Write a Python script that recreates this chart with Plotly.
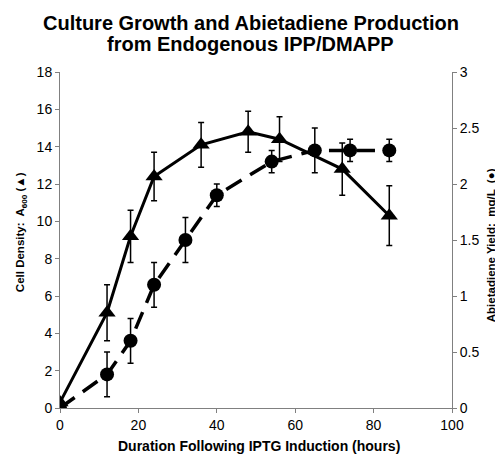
import plotly.graph_objects as go

# hours after induction
hours_density = [0, 12, 18, 24, 36, 48, 56, 72, 84]
density = [0.3, 5.1, 9.2, 12.4, 14.1, 14.8, 14.4, 12.8, 10.3]
density_err = [0.0, 1.5, 1.4, 1.3, 1.2, 1.1, 1.2, 1.4, 1.6]

hours_yield = [0, 12, 18, 24, 32, 40, 54, 65, 74, 84]
abietadiene = [0.0, 0.3, 0.6, 1.1, 1.5, 1.9, 2.2, 2.3, 2.3, 2.3]
abietadiene_err = [0.0, 0.2, 0.2, 0.2, 0.2, 0.1, 0.1, 0.2, 0.1, 0.1]

FONT = "Liberation Sans, Arial, sans-serif"

fig = go.Figure()

# cell density (left axis)
fig.add_trace(go.Scatter(
    x=hours_density, y=density,
    mode='lines+markers',
    line=dict(color='black', width=3),
    marker=dict(symbol='triangle-up', size=15, color='black'),
    error_y=dict(type='data', array=density_err, color='black', thickness=1.5, width=3),
    showlegend=False,
))

# abietadiene yield (right axis)
fig.add_trace(go.Scatter(
    x=hours_yield, y=abietadiene,
    mode='lines+markers',
    line=dict(color='black', width=3.5, dash='18px,10px'),
    marker=dict(symbol='circle', size=14, color='black'),
    error_y=dict(type='data', array=abietadiene_err, color='black', thickness=1.5, width=3),
    yaxis='y2',
    showlegend=False,
))

axis_style = dict(
    showgrid=False, zeroline=False, automargin=False,
    showline=True, linecolor='#808080', linewidth=1,
    ticks='outside', ticklen=4, tickcolor='#808080',
    tickfont=dict(size=14),
)

# page body adds an 8px margin, so the figure is 8px smaller than the window
fig.update_layout(
    width=495, height=447,
    paper_bgcolor='white', plot_bgcolor='white',
    font=dict(family=FONT, size=14, color='black'),
    margin=dict(l=52, r=51, t=64, b=47),
    xaxis=dict(range=[0, 100], dtick=20, **axis_style),
    yaxis=dict(range=[0, 18], dtick=2, **axis_style),
    yaxis2=dict(range=[0, 3], dtick=0.5, overlaying='y', side='right', **axis_style),
    annotations=[
        dict(text='<b>Culture Growth and Abietadiene Production</b>',
             xref='paper', yref='paper', x=0.487, y=1.146, showarrow=False,
             xanchor='center', yanchor='middle', font=dict(size=20)),
        dict(text='<b>from Endogenous IPP/DMAPP</b>',
             xref='paper', yref='paper', x=0.487, y=1.083, showarrow=False,
             xanchor='center', yanchor='middle', font=dict(size=20)),
        dict(text='<b>Duration Following IPTG Induction (hours)</b>',
             xref='paper', yref='paper', x=0.508, y=-0.113, showarrow=False,
             xanchor='center', yanchor='middle', font=dict(size=14)),
        dict(text='<b>Cell Density:  A<sub>600</sub> (▲)</b>',
             xref='paper', yref='paper', x=-0.099, y=0.524, showarrow=False,
             xanchor='center', yanchor='middle', textangle=-90, font=dict(size=11.5)),
        dict(text='<b>Abietadiene Yield:  mg/L  (●)</b>',
             xref='paper', yref='paper', x=1.1, y=0.485, showarrow=False,
             xanchor='center', yanchor='middle', textangle=-90, font=dict(size=11.5)),
    ],
)

fig.write_html("out.html")
